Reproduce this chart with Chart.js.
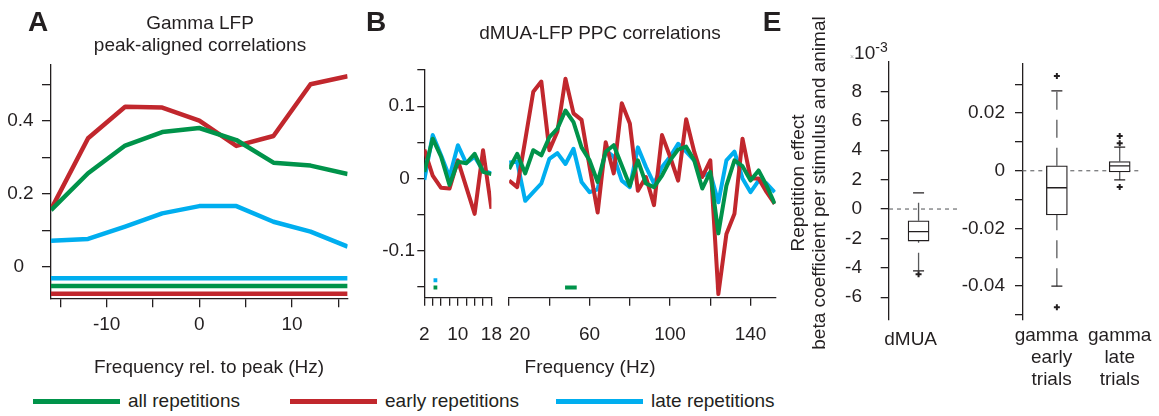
<!DOCTYPE html>
<html>
<head>
<meta charset="utf-8">
<title>Repetition effects on gamma and dMUA-LFP coupling</title>
<script src="https://cdn.jsdelivr.net/npm/chart.js@4.4.1/dist/chart.umd.min.js"></script>
<style>
  body { margin: 0; background: #fff; }
  #fig { position: relative; width: 1159px; height: 416px; overflow: hidden;
         font-family: 'Liberation Sans', Arial, sans-serif; color: #231F20; }
  #fig canvas { position: absolute; }
  .t { position: absolute; white-space: nowrap; font-size: 19px; line-height: 22px;
       transform: translate(-50%, -50%); }
  .letter { font-weight: bold; font-size: 28px; line-height: 28px; }
  .ytitle { transform: translate(-50%, -50%) rotate(-90deg); }
  .exp { position: absolute; white-space: nowrap; font-size: 19px; line-height: 22px;
         transform: translate(0, -50%); }
  .exp .x { font-size: 7px; color: #aaa; }
  .exp .sup { font-size: 14px; position: relative; top: -7px; }
  .item { position: absolute; top: 390px; display: flex; align-items: center;
          font-size: 19px; line-height: 22px; white-space: nowrap; }
  .swatch { display: inline-block; width: 87px; height: 5px; margin-right: 8px; }
</style>
</head>
<body>
<div id="fig">
  <canvas id="chartA"></canvas>
  <canvas id="chartBlow"></canvas>
  <canvas id="chartBhigh"></canvas>
  <canvas id="chartEdmua"></canvas>
  <canvas id="chartEgamma"></canvas>

  <div class="t letter" style="left:38px;top:22px">A</div>
  <div class="t" style="left:200px;top:23px">Gamma LFP</div>
  <div class="t" style="left:200px;top:45px">peak-aligned correlations</div>
  <div class="t" style="left:209px;top:367px">Frequency rel. to peak (Hz)</div>

  <div class="t letter" style="left:376px;top:22px">B</div>
  <div class="t" style="left:600px;top:33px">dMUA-LFP PPC correlations</div>
  <div class="t" style="left:590px;top:367px">Frequency (Hz)</div>

  <div class="t letter" style="left:772px;top:22px">E</div>
  <div class="t ytitle" style="left:798px;top:183px">Repetition effect</div>
  <div class="t ytitle" style="left:819px;top:183px">beta coefficient per stimulus and animal</div>
  <div class="exp" style="left:850px;top:55px"><span class="x">×</span>10<span class="sup">-3</span></div>
  <div id="legend"></div>
</div>

<script>
/* ── series ── */
const SERIES = ['all repetitions', 'early repetitions', 'late repetitions'];
const COLORS = ['#00934A', '#C1272D', '#00AEEF'];
const INK = '#231F20';

/* ── A: gamma LFP, peak-aligned ── */
const FREQ_REL = [-16, -12, -8, -4, 0, 4, 8, 12, 16];
const A_ALL    = [0.155, 0.256, 0.332, 0.369, 0.380, 0.347, 0.285, 0.277, 0.254];
const A_EARLY  = [0.157, 0.352, 0.438, 0.436, 0.400, 0.331, 0.358, 0.500, 0.522];
const A_LATE   = [0.071, 0.076, 0.110, 0.146, 0.166, 0.166, 0.123, 0.096, 0.055];
const A_SIG_Y  = [-0.053, -0.074, -0.032];          // significance bars: all / early / late
const A_Y_TICKS  = [0, 0.1, 0.2, 0.3, 0.4, 0.5];
const A_Y_LABELS = [0, 0.2, 0.4];
const A_X_TICKS  = [-15, -10, -5, 0, 5, 10, 15];
const A_X_LABELS = [-10, 0, 10];

/* ── B: dMUA-LFP PPC, low band ── */
const FREQ_LOW    = [2, 4, 6, 8, 10, 12, 14, 16, 18];
const B_LOW_ALL   = [0.009, 0.055, 0.030, -0.009, 0.023, 0.021, 0.034, 0.009, 0.006];
const B_LOW_EARLY = [0.040, 0.004, -0.013, -0.014, 0.025, -0.012, -0.049, 0.039, -0.042];
const B_LOW_LATE  = [-0.002, 0.060, 0.032, 0.002, 0.046, 0.021, 0.030, 0.011, 0.007];

/* ── B: high band ── */
const FREQ_HIGH = [20, 24, 28, 32, 36, 40, 44, 48, 52, 56, 60, 64, 68, 72, 76, 80, 84,
                   88, 92, 96, 100, 104, 108, 112, 116, 120, 124, 128, 132, 136, 140, 144, 148, 152];
const B_HIGH_ALL = [0.013, 0.034, 0.007, 0.039, 0.032, 0.057, 0.069, 0.094, 0.078, 0.043, 0.025, -0.005,
                    0.037, 0.046, 0.018, -0.010, 0.025, -0.007, -0.012, 0.004, 0.025, 0.040, 0.044,
                    0.025, -0.014, 0.009, -0.076, -0.010, 0.025, 0.017, -0.003, 0.011, -0.010, -0.035];
const B_HIGH_EARLY = [-0.003, -0.012, 0.053, 0.120, 0.134, 0.039, 0.065, 0.138, 0.090, 0.081, 0.016, -0.047,
                      0.050, 0.007, 0.104, 0.076, -0.017, 0.002, -0.037, 0.060, 0.030, -0.003, 0.082,
                      0.037, 0.002, 0.025, -0.160, -0.077, -0.049, 0.055, 0.000, 0.000, -0.019, -0.035];
const B_HIGH_LATE = [0.022, 0.023, -0.031, -0.019, -0.007, 0.027, 0.035, 0.020, 0.041, -0.005, -0.019, -0.015,
                     0.039, 0.030, -0.003, -0.012, 0.043, 0.016, -0.007, 0.016, 0.030, 0.048, 0.037,
                     0.025, 0.004, 0.007, -0.033, 0.025, 0.037, 0.000, -0.019, -0.003, -0.007, -0.019];
// significant frequency ranges [from, to] and the level they are marked at
const B_SIG_LOW_ALL   = [[4.2, 5.1]];
const B_SIG_LOW_LATE  = [[4.2, 5.1]];
const B_SIG_HIGH_ALL  = [[47.8, 53.6], [122.8, 124.7]];
const B_SIG_Y         = [-0.151, -0.141];            // all / late
const B_Y_TICKS   = [-0.15, -0.1, -0.05, 0, 0.05, 0.1, 0.15];
const B_Y_LABELS  = [-0.1, 0, 0.1];
const B_LOW_TICKS  = [2, 4, 6, 8, 10, 12, 14, 16, 18];
const B_LOW_LABELS = [2, 10, 18];
const B_HIGH_TICKS  = [20, 40, 60, 80, 100, 120, 140];
const B_HIGH_LABELS = [20, 60, 100, 140];

/* ── E: repetition effect boxplots  [lower whisker, q1, median, q3, upper whisker] ── */
const E_DMUA_NAMES    = ['dMUA'];
const E_DMUA_STATS    = [[-4.2, -2.18, -1.54, -0.8, 1.1]];        // ×10^-3
const E_DMUA_OUTLIERS = [[-4.44]];
const E_DMUA_TICKS    = [-6, -4, -2, 0, 2, 4, 6, 8];
const E_GAMMA_NAMES    = [['gamma', 'early', 'trials'], ['gamma', 'late', 'trials']];
const E_GAMMA_STATS    = [[-0.040, -0.0153, -0.0059, 0.0017, 0.0277],
                          [-0.0032, -0.0004, 0.0017, 0.0032, 0.0082]];
const E_GAMMA_OUTLIERS = [[0.0328, -0.0473], [0.0095, 0.012, -0.0056]];
const E_GAMMA_TICKS    = [-0.05, -0.04, -0.03, -0.02, -0.01, 0, 0.01, 0.02, 0.03];
const E_GAMMA_LABELS   = [-0.04, -0.02, 0, 0.02];

/* ── defaults ── */
Chart.defaults.font.family = "'Liberation Sans', Arial, sans-serif";
Chart.defaults.font.size = 19;
Chart.defaults.color = INK;
Chart.defaults.animation = false;
Chart.defaults.events = [];
Chart.defaults.plugins.legend.display = false;
Chart.defaults.plugins.tooltip.enabled = false;

/* canvas box + wanted plot area (page px) -> padding and axis sizes */
function frame(id, box, area, yShown) {
  const c = document.getElementById(id);
  c.width = box.w; c.height = box.h;
  c.style.left = box.x + 'px'; c.style.top = box.y + 'px';
  return {
    padding: { top: area.t - box.y, right: box.x + box.w - area.r,
               left: yShown ? 0 : area.l - box.x, bottom: 0 },
    yWidth: area.l - box.x,
    xHeight: box.y + box.h - area.b,
  };
}

function yAxis(f, min, max, ticks, labels, tickLen, pad, fmt, shown = true) {
  const ax = {
    type: 'linear', min, max, display: shown,
    afterBuildTicks: s => { s.ticks = ticks.map(v => ({ value: v })); },
    ticks: { padding: pad, autoSkip: false, callback: v => labels.includes(v) ? fmt(v) : '' },
    grid: { drawOnChartArea: false, tickLength: tickLen, color: INK, lineWidth: 1.3 },
    border: { color: INK, width: 1.3 },
  };
  if (shown) ax.afterFit = s => { s.width = f.yWidth; };
  return ax;
}

function xAxis(f, min, max, ticks, labels, tickLen, pad, fmt = String) {
  return {
    type: 'linear', min, max, offset: false,
    afterBuildTicks: s => { s.ticks = ticks.map(v => ({ value: v })); },
    afterFit: s => { s.height = f.xHeight; },
    ticks: { padding: pad, autoSkip: false, maxRotation: 0, minRotation: 0,
             callback: v => labels.includes(v) ? fmt(v) : '' },
    grid: { drawOnChartArea: false, tickLength: tickLen, color: INK, lineWidth: 1.3, offset: false },
    border: { color: INK, width: 1.3 },
  };
}

// group labels under the boxes; fmt may nudge a label with padding spaces
function groupAxis(f, min, max, names, pad, fmt = n => n) {
  return {
    type: 'linear', min, max, offset: false,
    afterBuildTicks: s => { s.ticks = names.map((n, i) => ({ value: i + 1 })); },
    afterFit: s => { s.height = f.xHeight; },
    ticks: { padding: pad, autoSkip: false, maxRotation: 0, minRotation: 0,
             font: { lineHeight: 1.17 }, callback: v => fmt(names[v - 1], v - 1) },
    grid: { display: false, drawTicks: false },
    border: { display: false },
  };
}

function curve(xs, ys, color, width) {
  return {
    type: 'line', data: xs.map((x, i) => ({ x, y: ys[i] })),
    borderColor: color, borderWidth: width, borderJoinStyle: 'round',
    pointRadius: 0, tension: 0, fill: false,
  };
}

function segment(x0, x1, y, color, width) {
  return {
    type: 'line', data: [{ x: x0, y }, { x: x1, y }],
    borderColor: color, borderWidth: width, borderCapStyle: 'butt',
    pointRadius: 0, fill: false,
  };
}

function boxplot(stats, outliers, xMin, xMax) {
  const sets = [];
  sets.push({ type: 'line', data: [{ x: xMin, y: 0 }, { x: xMax, y: 0 }], order: 10,
              borderColor: '#6D6E71', borderWidth: 1.2, borderDash: [4, 4], pointRadius: 0 });
  sets.push({ type: 'bar', order: 3, barThickness: 21, borderSkipped: false,
              data: stats.map((s, i) => ({ x: i + 1, y: [s[1], s[3]] })),
              backgroundColor: '#fff', borderColor: INK, borderWidth: 1.3 });
  stats.forEach((s, i) => {
    [[s[3], s[4]], [s[0], s[1]]].forEach(([a, b]) => {
      sets.push({ type: 'line', order: 5, data: [{ x: i + 1, y: a }, { x: i + 1, y: b }],
                  borderColor: '#58595B', borderWidth: 1.3, borderDash: [18, 10], pointRadius: 0 });
    });
  });
  sets.push({ type: 'line', order: 2, showLine: false, pointStyle: 'line', pointRadius: 5.5,
              pointBorderColor: INK, pointBorderWidth: 1.3,
              data: stats.flatMap((s, i) => [{ x: i + 1, y: s[0] }, { x: i + 1, y: s[4] }]) });
  sets.push({ type: 'line', order: 1, showLine: false, pointStyle: 'line', pointRadius: 10,
              pointBorderColor: INK, pointBorderWidth: 1.3,
              data: stats.map((s, i) => ({ x: i + 1, y: s[2] })) });
  sets.push({ type: 'line', order: 0, showLine: false, pointStyle: 'cross', pointRadius: 3,
              pointBorderColor: INK, pointBorderWidth: 2,
              data: outliers.flatMap((o, i) => o.map(y => ({ x: i + 1, y }))) });
  return sets;
}

/* ── A ── */
const fA = frame('chartA', { x: 0, y: 0, w: 360, h: 390 }, { l: 51, t: 65, r: 347.6, b: 298.3 }, true);
new Chart('chartA', {
  type: 'line',
  data: { datasets: [
    curve(FREQ_REL, A_ALL, COLORS[0], 4.5),
    curve(FREQ_REL, A_EARLY, COLORS[1], 4.5),
    curve(FREQ_REL, A_LATE, COLORS[2], 4.5),
    ...A_SIG_Y.map((y, i) => segment(FREQ_REL[0], FREQ_REL[FREQ_REL.length - 1], y, COLORS[i], 4.5)),
  ] },
  options: {
    responsive: false,
    layout: { padding: fA.padding },
    scales: {
      x: xAxis(fA, -16, 16, A_X_TICKS, A_X_LABELS, 9, 6),
      y: yAxis(fA, -0.0866, 0.5526, A_Y_TICKS, A_Y_LABELS, 9, 8.4, v => v === 0 ? '0\u2002' : String(v)),
    },
  },
});

/* ── B low band ── */
const fBl = frame('chartBlow', { x: 360, y: 0, w: 160, h: 390 }, { l: 424.3, t: 69.3, r: 496.3, b: 297.7 }, true);
new Chart('chartBlow', {
  type: 'line',
  data: { datasets: [
    curve(FREQ_LOW, B_LOW_ALL, COLORS[0], 4),
    curve(FREQ_LOW, B_LOW_EARLY, COLORS[1], 4),
    curve(FREQ_LOW, B_LOW_LATE, COLORS[2], 4),
    ...B_SIG_LOW_ALL.map(r => segment(r[0], r[1], B_SIG_Y[0], COLORS[0], 4)),
    ...B_SIG_LOW_LATE.map(r => segment(r[0], r[1], B_SIG_Y[1], COLORS[2], 4)),
  ] },
  options: {
    responsive: false,
    layout: { padding: fBl.padding },
    scales: {
      x: xAxis(fBl, 2, 18, B_LOW_TICKS, B_LOW_LABELS, 8, 18),
      y: yAxis(fBl, -0.165, 0.151, B_Y_TICKS, B_Y_LABELS, 7, 2.3, v => v === 0 ? '0 ' : String(v)),
    },
  },
});

/* ── B high band ── */
const fBh = frame('chartBhigh', { x: 470, y: 0, w: 320, h: 390 }, { l: 506.7, t: 69.3, r: 775.7, b: 297.7 }, false);
new Chart('chartBhigh', {
  type: 'line',
  data: { datasets: [
    curve(FREQ_HIGH, B_HIGH_ALL, COLORS[0], 4),
    curve(FREQ_HIGH, B_HIGH_EARLY, COLORS[1], 4),
    curve(FREQ_HIGH, B_HIGH_LATE, COLORS[2], 4),
    ...B_SIG_HIGH_ALL.map(r => segment(r[0], r[1], B_SIG_Y[0], COLORS[0], 4)),
  ] },
  options: {
    responsive: false,
    layout: { padding: fBh.padding },
    scales: {
      x: xAxis(fBh, 20, 152.5, B_HIGH_TICKS, B_HIGH_LABELS, 8, 18, v => v === 20 ? '    20' : String(v)),
      y: yAxis(fBh, -0.165, 0.151, B_Y_TICKS, B_Y_LABELS, 7, 2.3, String, false),
    },
  },
});

/* ── E dMUA ── */
const fEd = frame('chartEdmua', { x: 830, y: 0, w: 140, h: 390 }, { l: 889, t: 62, r: 957, b: 319.3 }, true);
new Chart('chartEdmua', {
  type: 'bar',
  data: { datasets: boxplot(E_DMUA_STATS, E_DMUA_OUTLIERS, 0, 2.3) },
  options: {
    responsive: false,
    layout: { padding: fEd.padding },
    scales: {
      x: groupAxis(fEd, 0, 2.3, E_DMUA_NAMES, 9.6, n => n + '   '),
      y: yAxis(fEd, -7.5, 10, E_DMUA_TICKS, E_DMUA_TICKS, 8.3, 18.7, String),
    },
  },
});

/* ── E gamma ── */
const fEg = frame('chartEgamma', { x: 960, y: 0, w: 199, h: 390 }, { l: 1022.3, t: 64, r: 1145, b: 319.3 }, true);
new Chart('chartEgamma', {
  type: 'bar',
  data: { datasets: boxplot(E_GAMMA_STATS, E_GAMMA_OUTLIERS, 0.45, 2.34) },
  options: {
    responsive: false,
    layout: { padding: fEg.padding },
    scales: {
      // early-trial label sits a little left of its box, as in the source figure
      x: groupAxis(fEg, 0.45, 2.34, E_GAMMA_NAMES, 5.1,
                   (n, i) => i === 0 ? [n[0] + '    ', n[1] + '  ', n[2] + '  '] : n),
      y: yAxis(fEg, -0.0515, 0.037, E_GAMMA_TICKS, E_GAMMA_LABELS, 7.3, 10, String),
    },
  },
});

/* ── shared legend ── */
const LEGEND_LEFT = [33, 290, 556];
const legend = document.getElementById('legend');
SERIES.forEach((name, i) => {
  const item = document.createElement('div');
  item.className = 'item';
  item.style.left = LEGEND_LEFT[i] + 'px';
  item.innerHTML = `<span class="swatch" style="background:${COLORS[i]}"></span>${name}`;
  legend.appendChild(item);
});
</script>
</body>
</html>
